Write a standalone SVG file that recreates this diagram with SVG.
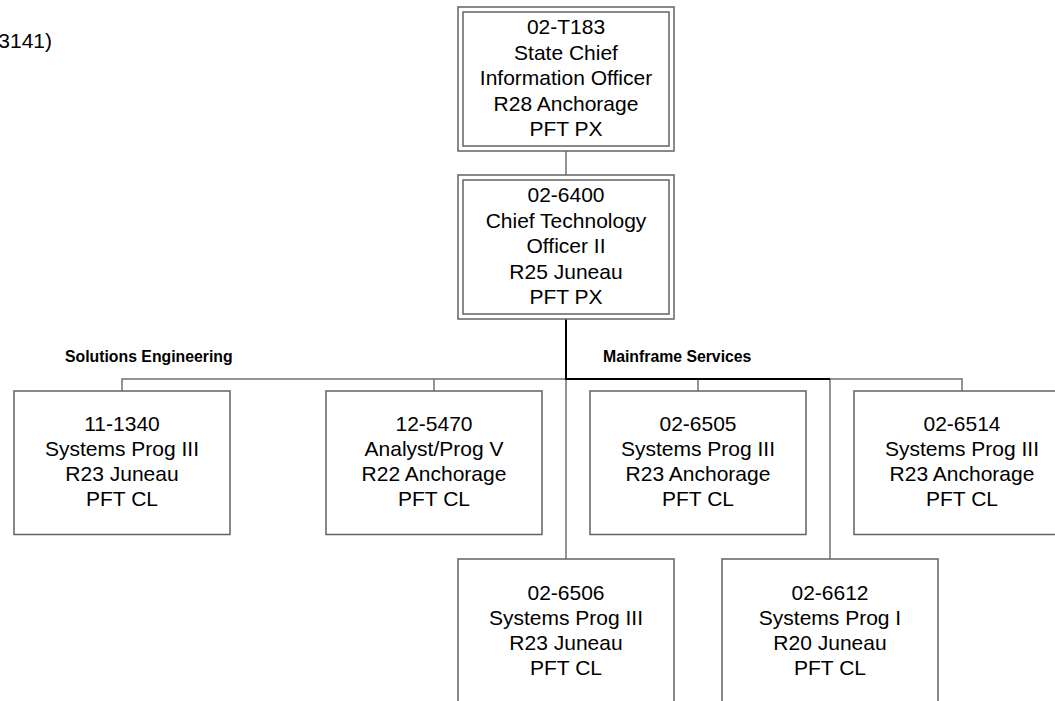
<svg xmlns="http://www.w3.org/2000/svg" width="1055" height="701" viewBox="0 0 1055 701">
<style>
  .box { fill: #ffffff; stroke: #636363; stroke-width: 1.5; }
  .t { font-family: "Liberation Sans", Arial, sans-serif; font-size: 21px; fill: #000000; text-anchor: middle; }
  .lbl { font-family: "Liberation Sans", Arial, sans-serif; font-size: 15.8px; font-weight: bold; fill: #000000; }
  .c { fill: none; stroke: #707070; stroke-width: 1.5; }
  .ck { fill: none; stroke: #000000; stroke-width: 2; }
</style>
<rect x="0" y="0" width="1055" height="701" fill="#ffffff"/>
<text class="t" x="52" y="48" style="text-anchor:end">3141)</text>
<g id="connectors">
  <path class="c" d="M566 151 V175"/>
  <path class="c" d="M122 391 V379 H962 V391"/>
  <path class="c" d="M434 379 V391"/>
  <path class="c" d="M698 379 V391"/>
  <path class="c" d="M566 379 V559"/>
  <path class="c" d="M830 379 V559"/>
  <path class="ck" d="M566 319 V379 H830"/>
</g>
<g id="labels">
  <text class="lbl" x="65" y="362">Solutions Engineering</text>
  <text class="lbl" x="603" y="362">Mainframe Services</text>
</g>
<g id="n-02-T183">
  <rect class="box" x="458" y="7" width="216" height="144"/>
  <rect class="box" x="463" y="12" width="206" height="134"/>
  <text class="t" x="566" y="34">02-T183</text>
  <text class="t" x="566" y="59.5">State Chief</text>
  <text class="t" x="566" y="85">Information Officer</text>
  <text class="t" x="566" y="110.5">R28 Anchorage</text>
  <text class="t" x="566" y="136">PFT PX</text>
</g>
<g id="n-02-6400">
  <rect class="box" x="458" y="175" width="216" height="144"/>
  <rect class="box" x="463" y="180" width="206" height="134"/>
  <text class="t" x="566" y="202">02-6400</text>
  <text class="t" x="566" y="227.5">Chief Technology</text>
  <text class="t" x="566" y="253">Officer II</text>
  <text class="t" x="566" y="278.5">R25 Juneau</text>
  <text class="t" x="566" y="304">PFT PX</text>
</g>
<g id="n-11-1340">
  <rect class="box" x="14" y="391" width="216" height="143.5"/>
  <text class="t" x="122" y="431">11-1340</text>
  <text class="t" x="122" y="456">Systems Prog III</text>
  <text class="t" x="122" y="481">R23 Juneau</text>
  <text class="t" x="122" y="506">PFT CL</text>
</g>
<g id="n-12-5470">
  <rect class="box" x="326" y="391" width="216" height="143.5"/>
  <text class="t" x="434" y="431">12-5470</text>
  <text class="t" x="434" y="456">Analyst/Prog V</text>
  <text class="t" x="434" y="481">R22 Anchorage</text>
  <text class="t" x="434" y="506">PFT CL</text>
</g>
<g id="n-02-6505">
  <rect class="box" x="590" y="391" width="216" height="143.5"/>
  <text class="t" x="698" y="431">02-6505</text>
  <text class="t" x="698" y="456">Systems Prog III</text>
  <text class="t" x="698" y="481">R23 Anchorage</text>
  <text class="t" x="698" y="506">PFT CL</text>
</g>
<g id="n-02-6514">
  <rect class="box" x="854" y="391" width="216" height="143.5"/>
  <text class="t" x="962" y="431">02-6514</text>
  <text class="t" x="962" y="456">Systems Prog III</text>
  <text class="t" x="962" y="481">R23 Anchorage</text>
  <text class="t" x="962" y="506">PFT CL</text>
</g>
<g id="n-02-6506">
  <rect class="box" x="458" y="559" width="216" height="160"/>
  <text class="t" x="566" y="600">02-6506</text>
  <text class="t" x="566" y="625">Systems Prog III</text>
  <text class="t" x="566" y="650">R23 Juneau</text>
  <text class="t" x="566" y="675">PFT CL</text>
</g>
<g id="n-02-6612">
  <rect class="box" x="722" y="559" width="216" height="160"/>
  <text class="t" x="830" y="600">02-6612</text>
  <text class="t" x="830" y="625">Systems Prog I</text>
  <text class="t" x="830" y="650">R20 Juneau</text>
  <text class="t" x="830" y="675">PFT CL</text>
</g>
</svg>
